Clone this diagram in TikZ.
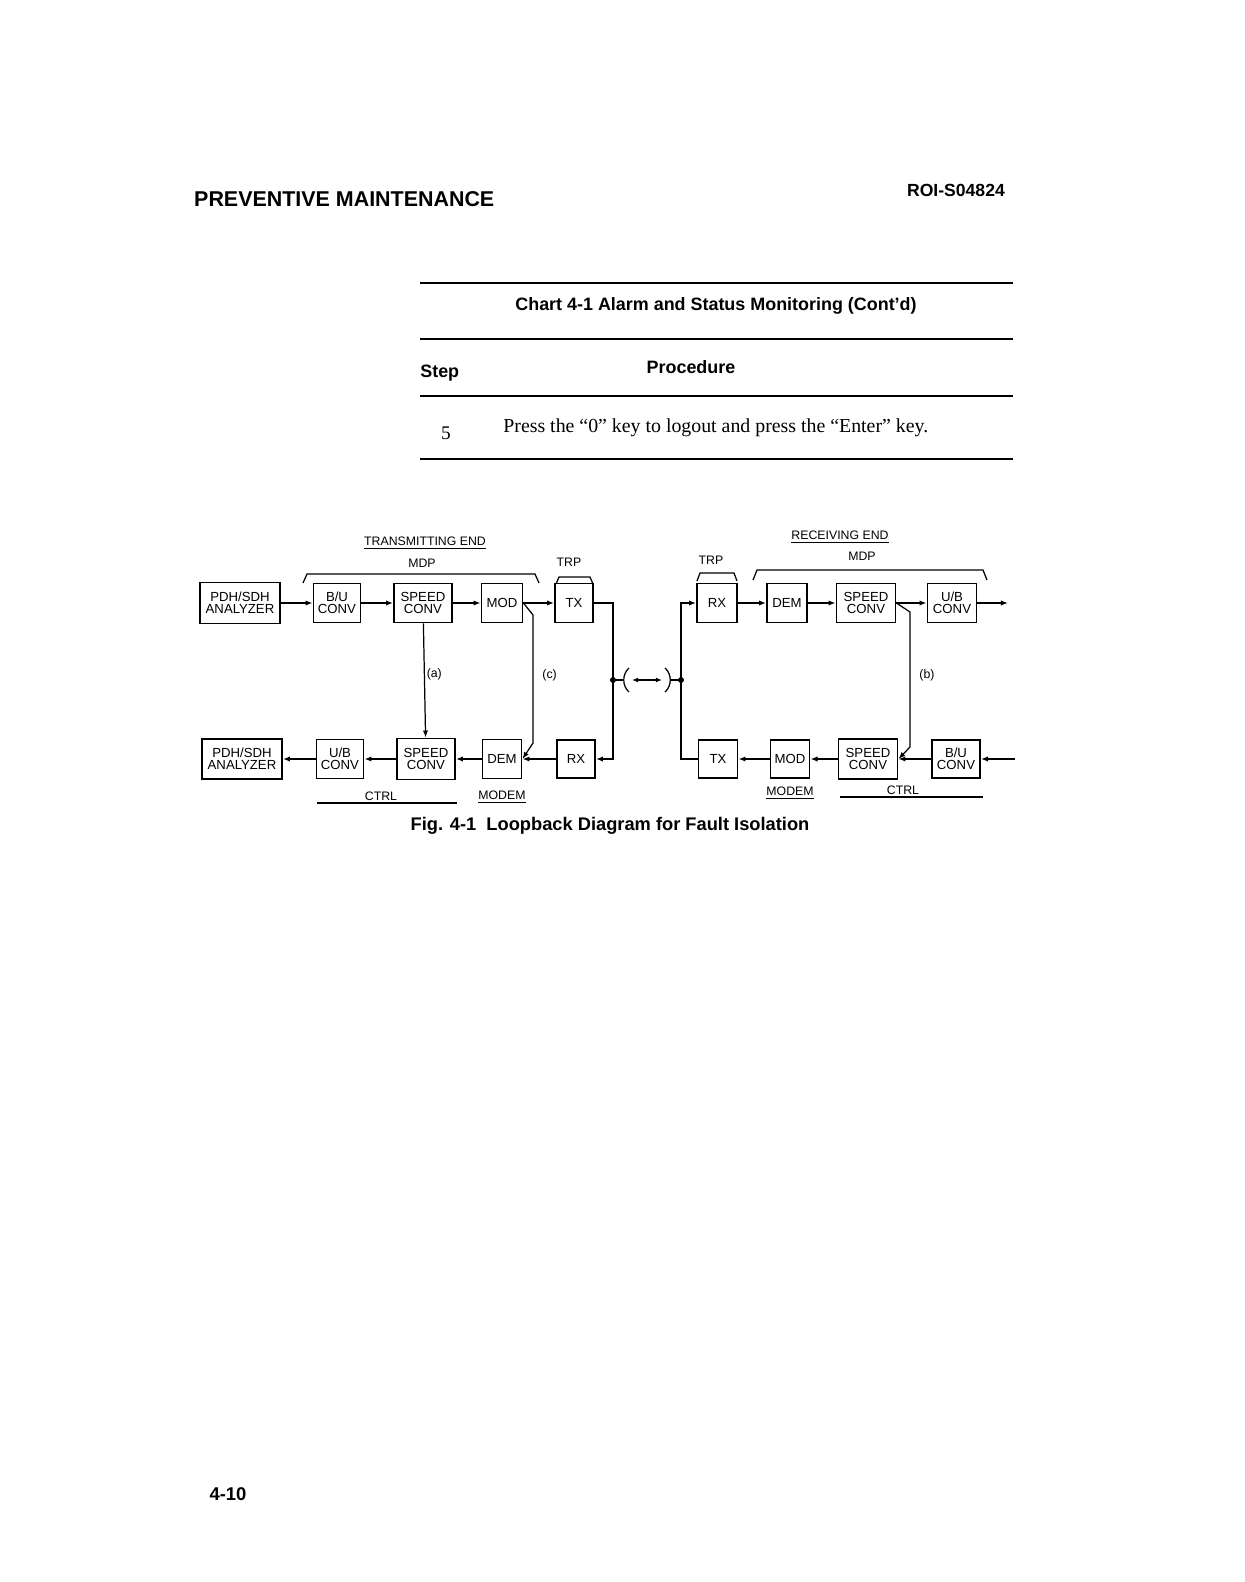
\documentclass[tikz,border=0pt]{standalone}
\usepackage{fontspec}
\setmainfont{Liberation Sans}
\newfontfamily\timesfont{Liberation Serif}
\usetikzlibrary{arrows.meta}

\begin{document}
\begin{tikzpicture}[x=0.02cm,y=-0.02cm,
  blk/.style={draw,line width=1.1pt,minimum height=0.78cm,inner sep=0pt,
              align=center,font=\fontsize{7.5}{7}\selectfont},
  lbl/.style={font=\fontsize{7}{8}\selectfont,inner sep=1pt},
  hdr/.style={font=\bfseries\fontsize{10.2}{12}\selectfont},
  arr/.style={-{Latex[length=4pt,width=3pt]},line width=0.7pt},
  ln/.style={line width=0.7pt},
  rule/.style={line width=1.2pt}]
\fill[white] (0,0) rectangle (1244,1582);
\useasboundingbox (0,0) rectangle (1244,1582);

\node[anchor=base west,font=\bfseries\fontsize{12.2}{14}\selectfont] (title) at (188,206) {PREVENTIVE MAINTENANCE};
\node[anchor=base east,font=\bfseries\fontsize{10}{12}\selectfont] (docno) at (1011,196) {ROI-S04824};

\draw[rule] (420,283) -- (1013,283);
\node[hdr] (chart) at (716,306) {Chart 4-1 Alarm and Status Monitoring (Cont’d)};
\draw[rule] (420,339) -- (1013,339);
\node[hdr,anchor=west,inner sep=0pt] (step) at (420,373) {Step};
\node[hdr] (proc) at (691,367) {Procedure};
\draw[rule] (420,396) -- (1013,396);
\node[font=\timesfont\fontsize{11}{13}\selectfont] (stepno) at (446,433) {5};
\node[font=\timesfont\fontsize{11.3}{13}\selectfont,anchor=west,inner sep=0pt] (steptxt) at (503,428) {Press the “0” key to logout and press the “Enter” key.};
\draw[rule] (420,459) -- (1013,459);

\node[blk,minimum width=1.6cm,minimum height=0.82cm] (pdh1) at (240,603) {PDH/SDH\\ANALYZER};
\node[blk,minimum width=0.94cm] (bu1) at (337,603) {B/U\\CONV};
\node[blk,minimum width=1.16cm] (speed1) at (423,603) {SPEED\\CONV};
\node[blk,minimum width=0.82cm] (mod1) at (502,603) {MOD};
\node[blk,minimum width=0.76cm] (tx1) at (574,603) {TX};
\node[blk,minimum width=0.8cm] (rx3) at (717,603) {RX};
\node[blk,minimum width=0.8cm] (dem3) at (787,603) {DEM};
\node[blk,minimum width=1.18cm] (speed3) at (866,603) {SPEED\\CONV};
\node[blk,minimum width=0.98cm] (ub3) at (952,603) {U/B\\CONV};

\node[blk,minimum width=1.6cm,minimum height=0.8cm] (pdh2) at (242,759) {PDH/SDH\\ANALYZER};
\node[blk,minimum width=0.94cm] (ub2) at (340,759) {U/B\\CONV};
\node[blk,minimum width=1.16cm,minimum height=0.82cm] (speed2) at (426,759) {SPEED\\CONV};
\node[blk,minimum width=0.78cm] (dem2) at (502,759) {DEM};
\node[blk,minimum width=0.76cm,minimum height=0.76cm] (rx2) at (576,759) {RX};
\node[blk,minimum width=0.78cm,minimum height=0.76cm] (tx4) at (718,759) {TX};
\node[blk,minimum width=0.78cm,minimum height=0.76cm] (mod4) at (790,759) {MOD};
\node[blk,minimum width=1.18cm,minimum height=0.8cm] (speed4) at (868,759) {SPEED\\CONV};
\node[blk,minimum width=0.96cm,minimum height=0.76cm] (bu4) at (956,759) {B/U\\CONV};

\coordinate (lpL) at (613,680);
\coordinate (lpR) at (681,680);
\coordinate (cT) at (533,615);
\coordinate (cB) at (533,743);
\coordinate (bT) at (910,612);
\coordinate (bB) at (910,747);
\coordinate (outR) at (1008,603);
\coordinate (inR) at (1015,759);

\draw[arr] (pdh1) -- (bu1);
\draw[arr] (bu1) -- (speed1);
\draw[arr] (speed1) -- (mod1);
\draw[arr] (mod1) -- (tx1);
\draw[ln] (tx1.east) -| (lpL);
\draw[arr] (lpL) |- (rx2.east);
\draw[arr] (rx2) -- (dem2);
\draw[arr] (dem2) -- (speed2);
\draw[arr] (speed2) -- (ub2);
\draw[arr] (ub2) -- (pdh2);
\draw[arr] (speed1) -- node[lbl,right,pos=0.45] {(a)} (speed2);
\draw[arr] (mod1.east) -- (cT) -- node[lbl,right,pos=0.47,xshift=4pt] {(c)} (cB) -- (dem2.east);

\draw[ln] (tx4.west) -| (lpR);
\draw[arr] (lpR) |- (rx3.west);
\draw[arr] (rx3) -- (dem3);
\draw[arr] (dem3) -- (speed3);
\draw[arr] (speed3) -- (ub3);
\draw[arr] (ub3) -- (outR);
\draw[arr] (inR) -- (bu4);
\draw[arr] (bu4) -- (speed4);
\draw[arr] (speed4) -- (mod4);
\draw[arr] (mod4) -- (tx4);
\draw[arr] (speed3.east) -- (bT) -- node[lbl,right,pos=0.47,xshift=4pt] {(b)} (bB) -- (speed4.east);

\fill (lpL) circle (1.7pt);
\fill (lpR) circle (1.7pt);
\draw[ln] (lpL) -- (624,680);
\draw[ln] (670,680) -- (lpR);
\draw[ln] (629,668) .. controls (622,674) and (622,686) .. (629,692);
\draw[ln] (665,668) .. controls (672,674) and (672,686) .. (665,692);
\draw[{Latex[length=3.5pt,width=2.8pt]}-{Latex[length=3.5pt,width=2.8pt]},line width=0.7pt] (632,680) -- (662,680);

\node[lbl] (txend) at (425,543) {\underline{TRANSMITTING END}};
\node[lbl] (mdp1) at (422,563) {MDP};
\node[lbl] (trp1) at (569,562) {TRP};
\draw[ln] (303,583) -- (307,574) -- (535,574) -- (539,583);
\draw[ln] (556,584) -- (559,577) -- (590,577) -- (593,584);

\node[lbl] (rxend) at (840,537) {\underline{RECEIVING END}};
\node[lbl] (trp3) at (711,560) {TRP};
\node[lbl] (mdp3) at (862,556) {MDP};
\draw[ln] (697,581) -- (700,573) -- (734,573) -- (737,581);
\draw[ln] (753,580) -- (757,570) -- (983,570) -- (987,580);

\draw[ln] (317,803) -- (457,803);
\node[lbl,anchor=south] (ctrl2) at (381,803) {CTRL};
\node[lbl] (modem2) at (502,797) {\underline{MODEM}};
\node[lbl] (modem4) at (790,793) {\underline{MODEM}};
\draw[ln] (840,797) -- (983,797);
\node[lbl,anchor=south] (ctrl4) at (903,797) {CTRL};

\node[font=\bfseries\fontsize{10.4}{12}\selectfont] (caption) at (610,826) {Fig. 4-1\ \ Loopback Diagram for Fault Isolation};
\node[font=\bfseries\fontsize{10.5}{12}\selectfont] (pageno) at (228,1494) {4-10};
\end{tikzpicture}
\end{document}
